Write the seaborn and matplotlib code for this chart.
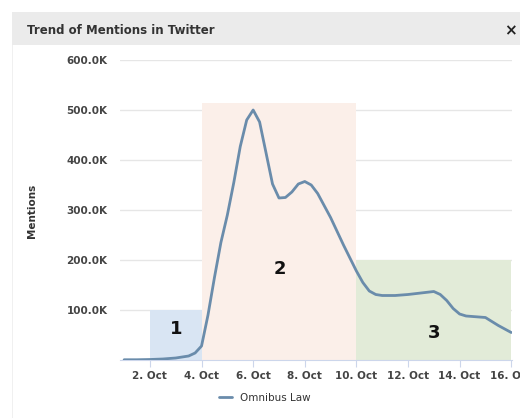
# Trend of Mentions in Twitter - Omnibus Law
import matplotlib
matplotlib.use("Agg")
import matplotlib.pyplot as plt
from matplotlib.patches import Rectangle
from matplotlib.ticker import FuncFormatter
import seaborn as sns

# data (day of October, mentions in thousands)
days = [1, 1.5, 2, 2.5, 3, 3.5, 3.75, 4, 4.25, 4.5, 4.75, 5, 5.25, 5.5, 5.75,
        6, 6.25, 6.5, 6.75, 7, 7.25, 7.5, 7.75, 8, 8.25, 8.5, 9, 9.5, 10, 10.25,
        10.5, 10.75, 11, 11.5, 12, 12.5, 13, 13.25, 13.5, 13.75, 14, 14.25,
        14.5, 15, 15.5, 16]
mentions_k = [0.5, 0.5, 1, 2, 4, 8, 14, 28, 90, 165, 235, 290, 355, 427, 480,
              500, 476, 414, 352, 324, 325, 336, 352, 357, 350, 333, 285, 230, 178, 155,
              138, 131, 129, 129, 131, 134, 137, 131, 119, 103, 92, 88,
              87, 85, 69, 55]
mentions = [v * 1000 for v in mentions_k]

# shaded phases
phase_names = ["1", "2", "3"]
phase_start = [2, 4, 10]
phase_end = [4, 10, 16]
phase_top = [100000, 515000, 200000]
phase_colors = ["#d9e5f3", "#fbefe9", "#e2ebd8"]
phase_label_x = [3.0, 7.05, 13.0]
phase_label_y = [62000, 183000, 54000]

x_ticks = [2, 4, 6, 8, 10, 12, 14, 16]
y_ticks = [100000, 200000, 300000, 400000, 500000, 600000]

sns.set_style("white")
plt.rcParams["font.family"] = ["DejaVu Sans"]

W, H = 520, 418
fig = plt.figure(figsize=(W / 100, H / 100), dpi=100)

# header bar
fig.patches.append(Rectangle((12 / W, 1 - 45 / H), 1, 33 / H, transform=fig.transFigure,
                             facecolor="#ebebeb", edgecolor="none", zorder=0))
fig.patches.append(Rectangle((12 / W, 0), 0.002, 1 - 45 / H, transform=fig.transFigure,
                             facecolor="#f0f0f0", edgecolor="none", zorder=0))
fig.text(27 / W, 1 - 30 / H, "Trend of Mentions in Twitter", fontsize=8.5,
         fontweight="bold", color="#333333", va="center")
fig.text(510 / W, 1 - 31 / H, "×", fontsize=11, fontweight="bold", color="#222222",
         ha="center", va="center")

ax = fig.add_axes([120 / W, 1 - 360 / H, 392 / W, 300 / H])

for s, e, top, c in zip(phase_start, phase_end, phase_top, phase_colors):
    ax.fill_between([s, e], 0, top, color=c, linewidth=0, zorder=1)

sns.lineplot(x=days, y=mentions, ax=ax, color="#6a8cab", linewidth=2,
             label="Omnibus Law", zorder=3)
ax.lines[0].set_solid_joinstyle("round")

for name, lx, ly in zip(phase_names, phase_label_x, phase_label_y):
    ax.text(lx, ly, name, fontsize=13, fontweight="bold", color="#111111",
            ha="center", va="center", zorder=4)

ax.set_xlim(0.84, 16.03)
ax.set_ylim(0, 600000)
ax.set_yticks(y_ticks)
ax.yaxis.set_major_formatter(FuncFormatter(lambda v, p: f"{v / 1000:.1f}K"))
ax.set_xticks(x_ticks)
ax.set_xticklabels([f"{d}. Oct" for d in x_ticks])
ax.grid(axis="y", color="#e6e6e6", linewidth=1, zorder=0)
ax.set_axisbelow(True)
for side in ["top", "right", "left"]:
    ax.spines[side].set_visible(False)
ax.spines["bottom"].set_color("#ccd6eb")
ax.tick_params(axis="y", length=0, labelsize=7.5, labelcolor="#444444", pad=9)
ax.tick_params(axis="x", length=5, color="#ccd6eb", labelsize=7.5,
               labelcolor="#444444", pad=3, bottom=True)
for lab in ax.get_xticklabels() + ax.get_yticklabels():
    lab.set_fontweight("semibold")
ax.set_xlabel("")
ax.set_ylabel("")

fig.text(32 / W, 1 - 211 / H, "Mentions", rotation=90, fontsize=7.5,
         fontweight="bold", color="#333333", ha="center", va="center")

ax.legend(loc="center", bbox_to_anchor=(265 / W, 1 - 398 / H),
          bbox_transform=fig.transFigure, frameon=False, fontsize=7.5,
          handlelength=1.2, labelcolor="#333333")

fig.savefig("out.png", dpi=100)
